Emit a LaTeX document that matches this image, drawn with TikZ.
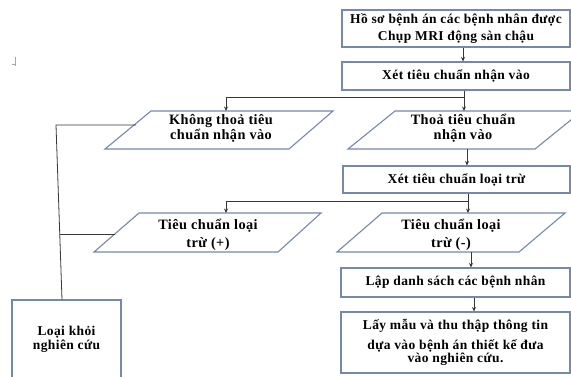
\documentclass[tikz,border=0pt]{standalone}
\usepackage{fontspec}
\setmainfont{Liberation Serif}
\usetikzlibrary{arrows.meta,calc}
\definecolor{bord}{RGB}{118,136,172}
\definecolor{lin}{RGB}{55,55,55}
\tikzset{
  txt/.style={font=\fontsize{13.5}{15}\selectfont\bfseries\addfontfeatures{LetterSpace=3},
    align=center, inner sep=0pt, text=black},
  ptxt/.style={txt, font=\fontsize{14.3}{15}\selectfont\bfseries\addfontfeatures{LetterSpace=3}},
  boxnode/.style={txt, rectangle, draw=bord, line width=1.1pt, fill=white},
  parashape/.style={draw=bord, line width=1.1pt, fill=white},
  conn/.style={draw=lin, line width=0.8pt},
  arr/.style={conn, -{Stealth[length=4.5pt,width=4pt]}}
}
\begin{document}
\begin{tikzpicture}[x=1pt,y=-1pt]
\useasboundingbox (0,0) rectangle (571,376);
\clip (0,0) rectangle (571,376);
\fill[white] (0,0) rectangle (571,376);

% small mark
\draw[gray!70, line width=0.9pt] (15,57) -- (15,66);
\draw[gray!70, line width=0.9pt] (12,64) -- (15,64);

% boxes
\node[boxnode, minimum width=228pt, minimum height=37pt] (b1) at (456,28.5)
  {Hồ sơ bệnh án các bệnh nhân được\\[2pt]Chụp MRI động sàn chậu};
\node[boxnode, minimum width=228pt, minimum height=28pt] (b2) at (456,76)
  {Xét tiêu chuẩn nhận vào};
\node[boxnode, minimum width=227pt, minimum height=27pt] (b3) at (456.5,179.5)
  {Xét tiêu chuẩn loại trừ};
\node[boxnode, minimum width=229pt, minimum height=29pt] (b4) at (455.5,282.5)
  {Lập danh sách các bệnh nhân};
\node[boxnode, minimum width=229pt, minimum height=61pt] (b5) at (455.5,342.5)
  {Lấy mẫu và thu thập thông tin\\[5pt]dựa vào bệnh án thiết kế đưa\\[-2pt]vào nghiên cứu.};
\node[boxnode, minimum width=109pt, minimum height=78pt] (lk) at (66.5,339)
  {Loại khỏi\\[-1pt]nghiên cứu};

% parallelograms
\draw[parashape] (105,149) -- (289,149) -- (333,111) -- (151,111) -- cycle;
\node[ptxt] (p1) at (221,128.5) {Không thoả tiêu\\chuẩn nhận vào};
\draw[parashape] (348,149) -- (535,149) -- (582,111) -- (395,111) -- cycle;
\node[ptxt] (p2) at (463,128.5) {Thoả tiêu chuẩn\\nhận vào};
\draw[parashape] (94,252) -- (278,252) -- (321,213) -- (139,213) -- cycle;
\node[ptxt] (p3) at (208,235) {Tiêu chuẩn loại\\[3pt]trừ (+)};
\draw[parashape] (337,252) -- (519,252) -- (565,213) -- (382,213) -- cycle;
\node[ptxt] (p4) at (451,235) {Tiêu chuẩn loại\\[3pt]trừ (-)};

% connection points on parallelograms
\coordinate (p1top) at (226,111);
\coordinate (p2top) at (464,111);
\coordinate (p2bot) at (467,149);
\coordinate (p3top) at (226,213);
\coordinate (p4top) at (468,213);
\coordinate (p4bot) at (471,252);
\coordinate (p1left) at (136,125);
\coordinate (p3left) at (115,234);
\coordinate (v1) at (56,125);
\coordinate (v2) at (59.7,234);
\coordinate (j1) at (464,97);
\coordinate (j2) at (468,201);

% connectors
\draw[arr] ([xshift=7pt]b1.south) -- ([xshift=7pt]b2.north);
\draw[conn] ([xshift=8pt]b2.south) -- (j1);
\draw[arr] (j1) -- (p2top);
\draw[arr] (j1) -| (p1top);
\draw[arr] (p2bot) -- ([xshift=10.5pt]b3.north);
\draw[conn] ([xshift=11.5pt]b3.south) -- (j2);
\draw[arr] (j2) -- (p4top);
\draw[arr] (j2) -| (p3top);
\draw[arr] (p4bot) -- ([xshift=15.5pt]b4.north);
\draw[arr] ([xshift=18.5pt]b4.south) -- ([xshift=18.5pt]b5.north);
\draw[conn] (p1left) -- (v1) -- ([xshift=-4.5pt]lk.north);
\draw[conn] (p3left) -- (v2);
\end{tikzpicture}
\end{document}
